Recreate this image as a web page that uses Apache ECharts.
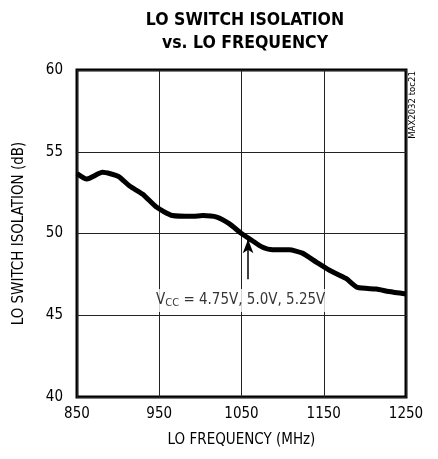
<!DOCTYPE html>
<html><head><meta charset="utf-8">
<script src="https://cdn.jsdelivr.net/npm/echarts@6/dist/echarts.min.js"></script>
<style>html,body{margin:0;padding:0;background:#fff}#c{width:438px;height:459px}</style>
</head><body><div id="c"></div>
<script>
var freqMHz = [850,862,881,900,914,930,947,966,991,1003,1020,1035,1050,1062,1075,1088,1108,1124,1141,1157,1177,1191,1214,1229,1250];
var isolationDb = [53.66,53.33,53.74,53.5,52.9,52.4,51.6,51.1,51.05,51.1,51.0,50.6,50.0,49.6,49.17,49.0,49.0,48.8,48.25,47.75,47.25,46.7,46.6,46.45,46.3];
var xTicks = [850,950,1050,1150,1250];
var yTicks = [40,45,50,55,60];
var arrowFreq = 1058, arrowFrom = 47.2, arrowTo = 49.65;
var noteFreq = 1049, noteDb = 45.9;
var FONT = '"Liberation Sans Narrow","DejaVu Sans Condensed",Arial,sans-serif';
var chart = echarts.init(document.getElementById('c'));
var pts = freqMHz.map(function(f,i){return [f, isolationDb[i]];});
chart.setOption({
  animation:false,
  title:{text:'LO SWITCH ISOLATION\nvs. LO FREQUENCY', left:240, top:4, textAlign:'center',
    textStyle:{fontFamily:FONT,fontWeight:900,fontSize:17.5,lineHeight:23,color:'#000'}},
  grid:{left:77,right:32,top:70,bottom:62,show:true,borderColor:'#000',borderWidth:3},
  xAxis:{type:'value',min:850,max:1250,interval:100,
    name:'LO FREQUENCY (MHz)',nameLocation:'middle',nameGap:36,
    nameTextStyle:{fontFamily:FONT,fontSize:15,color:'#000'},
    axisLine:{show:false},axisTick:{show:false},
    axisLabel:{fontFamily:FONT,fontSize:15,color:'#000',margin:10,formatter:function(v){return String(v);}},
    splitLine:{lineStyle:{color:'#222',width:1}}},
  yAxis:{type:'value',min:40,max:60,interval:5,
    name:'LO SWITCH ISOLATION (dB)',nameLocation:'middle',nameGap:50,
    nameTextStyle:{fontFamily:FONT,fontSize:15,color:'#000'},
    axisLine:{show:false},axisTick:{show:false},
    axisLabel:{fontFamily:FONT,fontSize:15,color:'#000',margin:14,formatter:function(v){return String(v);}},
    splitLine:{lineStyle:{color:'#222',width:1}}},
  graphic:[
    {type:'text',x:413,y:105,rotation:Math.PI/2,
     style:{text:'MAX2032 toc21',fontFamily:FONT,fontSize:9.5,fill:'#000',align:'center',verticalAlign:'middle'}}
  ],
  series:[
    {type:'line',data:pts,showSymbol:false,smooth:0.2,lineStyle:{color:'#000',width:5},z:3,
     markLine:{silent:true,symbol:['none','arrow'],symbolSize:[8,14],
       lineStyle:{color:'#000',width:1.5,type:'solid'},label:{show:false},
       data:[[{coord:[arrowFreq,arrowFrom]},{coord:[arrowFreq,arrowTo]}]]}},
    {type:'scatter',data:[[noteFreq,noteDb]],symbolSize:0,z:5,
     label:{show:true,position:'inside',backgroundColor:'#fff',padding:[3,2,3,2],color:'#000',
       formatter:'{a|V}{b|CC}{a| = 4.75V, 5.0V, 5.25V}',
       rich:{a:{fontFamily:FONT,fontSize:15,color:'#000'},
             b:{fontFamily:FONT,fontSize:11,color:'#000',verticalAlign:'bottom',padding:[6,0,0,0]}}}}
  ]
});
</script></body></html>
